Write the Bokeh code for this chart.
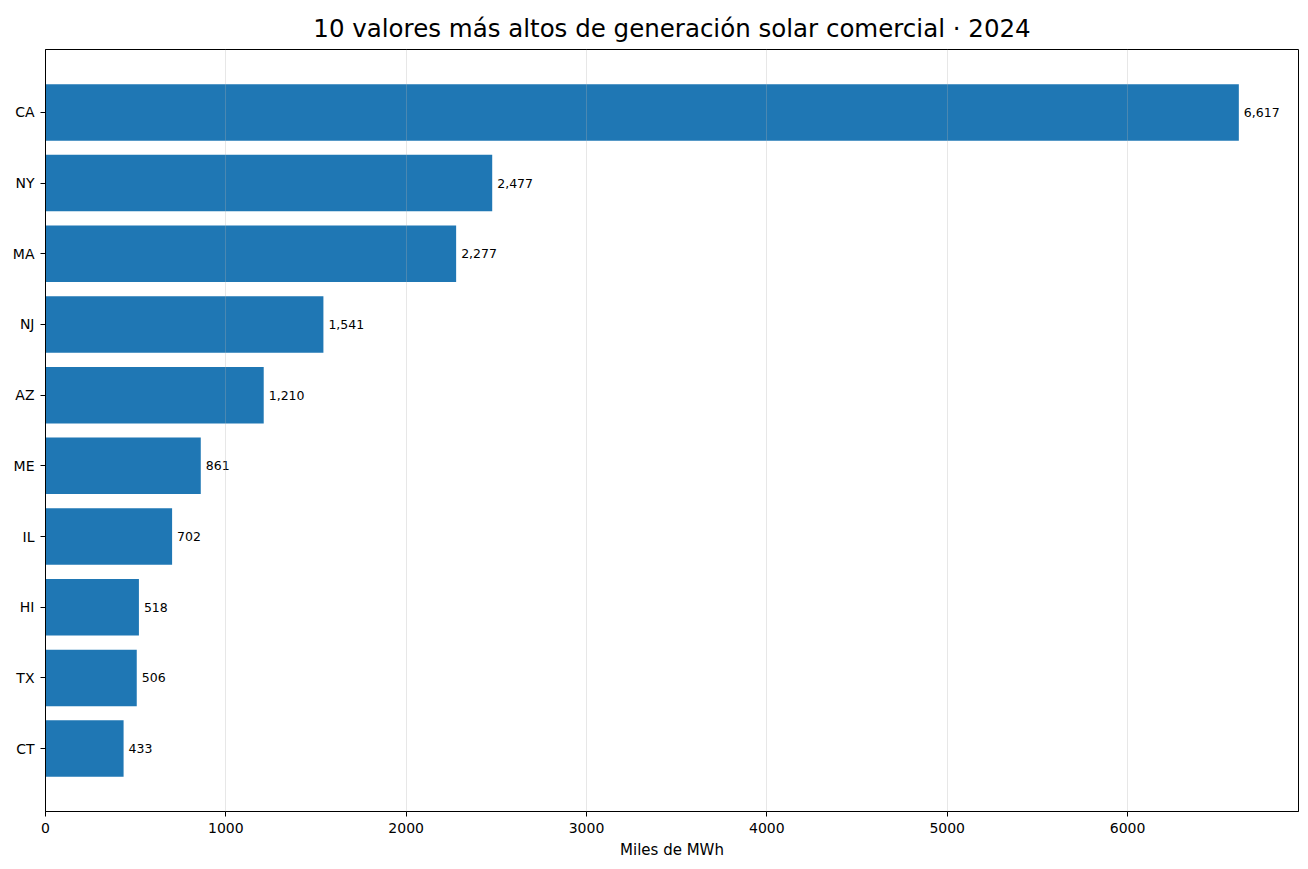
from bokeh.plotting import figure
from bokeh.models import Range1d, FixedTicker, ColumnDataSource, LabelSet
from bokeh.core.properties import value
from bokeh.embed import file_html
from bokeh.resources import INLINE

title_text = "10 valores más altos de generación solar comercial · 2024"
states = ["CA", "NY", "MA", "NJ", "AZ", "ME", "IL", "HI", "TX", "CT"]
values = [6617, 2477, 2277, 1541, 1210, 861, 702, 518, 506, 433]
x_ticks = [0, 1000, 2000, 3000, 4000, 5000, 6000]

n = len(states)
ypos = [n - 1 - i for i in range(n)]
labels = [f"{v:,}" for v in values]
src = ColumnDataSource(dict(y=ypos, v=values, lab=labels, s=states))

FONT = "DejaVu Sans"
p = figure(width=1308, height=869, output_backend="svg", toolbar_location=None,
           x_range=Range1d(0, max(values) * 1.05),
           y_range=Range1d(-0.89, n - 1 + 0.89),
           title=title_text,
           min_border_left=45, min_border_right=10, min_border_top=49, min_border_bottom=58)

p.hbar(y="y", right="v", left=0, height=0.8, source=src, color="#1f77b4", line_color=None)

lbl = LabelSet(x="v", y="y", text="lab", source=src, x_offset=5, text_align="left",
               text_baseline="middle", text_font_size="12.5px", text_font=value(FONT),
               text_color="black")
p.add_layout(lbl)

p.title.align = "center"
p.title.vertical_align = "top"
p.title.text_font = FONT
p.title.text_font_size = "24.5px"
p.title.text_font_style = "normal"
p.title.text_color = "black"
p.title.text_line_height = 0.75
p.title.standoff = 10

p.xaxis.ticker = FixedTicker(ticks=x_ticks)
p.yaxis.ticker = FixedTicker(ticks=ypos)
p.yaxis.major_label_overrides = {y: s for y, s in zip(ypos, states)}
p.xaxis.axis_label = "Miles de MWh"
for ax in (p.xaxis, p.yaxis):
    ax.major_label_text_font = FONT
    ax.major_label_text_font_size = "14px"
    ax.major_label_text_color = "black"
    ax.axis_label_text_font = FONT
    ax.axis_label_text_font_size = "15px"
    ax.axis_label_text_font_style = "normal"
    ax.axis_label_text_color = "black"
    ax.axis_line_color = "black"
    ax.major_tick_line_color = "black"
    ax.major_tick_out = 5
    ax.major_tick_in = 0
    ax.minor_tick_line_color = None
p.xaxis.major_label_standoff = 6
p.yaxis.major_label_standoff = 6
p.xaxis.axis_label_standoff = 5

p.ygrid.grid_line_color = None
p.xgrid.grid_line_color = "#b0b0b0"
p.xgrid.grid_line_alpha = 0.3
p.xgrid.level = "overlay"
p.outline_line_color = "black"
p.outline_line_alpha = 1

open("out.html", "w").write(file_html(p, INLINE))
